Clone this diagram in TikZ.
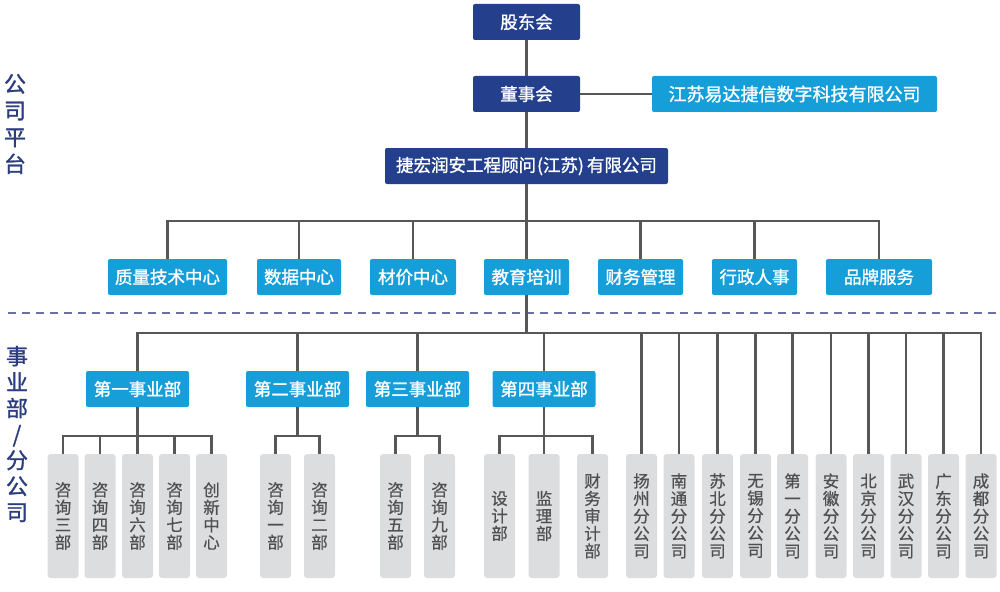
\documentclass[tikz,border=0pt]{standalone}
\usepackage{fontspec}
\setmainfont{Noto Sans CJK SC}
\newfontfamily\medfont[FakeBold=1.2]{Noto Sans CJK SC}
\newfontfamily\semifont[FakeBold=0.6]{Noto Sans CJK SC}
\definecolor{darkblue}{HTML}{243F8B}
\definecolor{lightblue}{HTML}{169ED9}
\definecolor{boxgray}{HTML}{DCDDDF}
\definecolor{textgray}{HTML}{505050}
\definecolor{linegray}{HTML}{575757}
\definecolor{labnavy}{HTML}{2B3D7D}
\definecolor{dashcol}{HTML}{6C70A8}
\begin{document}
\begin{tikzpicture}[x=1pt,y=-1pt,
  conn/.style={draw=linegray, line width=2.2pt},
  darkbox/.style={fill=darkblue, text=white, rounded corners=2pt, minimum height=36pt, inner sep=0pt, font=\medfont\fontsize{17.5}{20}\selectfont},
  lightbox/.style={fill=lightblue, text=white, rounded corners=2pt, minimum height=36pt, inner sep=0pt, font=\medfont\fontsize{17.5}{20}\selectfont},
  bubox/.style={lightbox, minimum width=103pt},
  gbox/.style={fill=boxgray, text=textgray, rounded corners=3pt, minimum width=31pt, minimum height=124pt, inner sep=0pt, align=center, font=\semifont\fontsize{16.5}{17.5}\selectfont},
  sidelab/.style={text=labnavy, align=center, inner sep=0pt},
  dashline/.style={draw=dashcol, line width=1.8pt, dash pattern=on 8pt off 6pt}
]
\useasboundingbox (0,0) rectangle (1000,591);

% side labels
\node[sidelab, font=\medfont\fontsize{22}{26.7}\selectfont] (labA) at (15,124) {公\\司\\平\\台};
\node[sidelab, font=\medfont\fontsize{22}{26}\selectfont] (labB) at (17,434) {事\\业\\部\\/\\分\\公\\司};

% separator
\draw[dashline] (8,313) -- (1000,313);

% top
\node[darkbox, minimum width=107pt] (sh) at (526.5,22) {股东会};
\node[darkbox, minimum width=107pt] (bd) at (526.5,94) {董事会};
\node[lightbox, minimum width=285pt, font=\medfont\fontsize{18}{20}\selectfont] (js) at (794.5,94) {江苏易达捷信数字科技有限公司};
\node[darkbox, minimum width=283pt] (jh) at (526.5,166) {捷宏润安工程顾问\hspace{1pt}(江苏)\hspace{3pt}有限公司};

% middle row
\node[lightbox, minimum width=119pt] (m1) at (167.5,277) {质量技术中心};
\node[lightbox, minimum width=84pt] (m2) at (299,277) {数据中心};
\node[lightbox, minimum width=86pt] (m3) at (413,277) {材价中心};
\node[lightbox, minimum width=85pt] (m4) at (526.5,277) {教育培训};
\node[lightbox, minimum width=85pt] (m5) at (640.5,277) {财务管理};
\node[lightbox, minimum width=85pt] (m6) at (754.5,277) {行政人事};
\node[lightbox, minimum width=106pt] (m7) at (879,277) {品牌服务};

% business units
\node[bubox] (bu1) at (137.5,389) {第一事业部};
\node[bubox] (bu2) at (297.5,389) {第二事业部};
\node[bubox] (bu3) at (417.5,389) {第三事业部};
\node[bubox] (bu4) at (544,389) {第四事业部};

% gray boxes
\node[gbox] (g11) at (63,516) {咨\\询\\三\\部};
\node[gbox] (g12) at (100,516) {咨\\询\\四\\部};
\node[gbox] (g13) at (137.5,516) {咨\\询\\六\\部};
\node[gbox] (g14) at (174.5,516) {咨\\询\\七\\部};
\node[gbox] (g15) at (211.5,516) {创\\新\\中\\心};
\node[gbox] (g21) at (275.5,516) {咨\\询\\一\\部};
\node[gbox] (g22) at (319.5,516) {咨\\询\\二\\部};
\node[gbox] (g31) at (395.5,516) {咨\\询\\五\\部};
\node[gbox] (g32) at (439.5,516) {咨\\询\\九\\部};
\node[gbox] (g41) at (499.5,516) {设\\计\\部};
\node[gbox] (g42) at (544,516) {监\\理\\部};
\node[gbox] (g43) at (592.5,516) {财\\务\\审\\计\\部};

% branches
\node[gbox] (b1) at (641.5,516) {扬\\州\\分\\公\\司};
\node[gbox] (b2) at (679,516) {南\\通\\分\\公\\司};
\node[gbox] (b3) at (717.5,516) {苏\\北\\分\\公\\司};
\node[gbox] (b4) at (755.5,516) {无\\锡\\分\\公\\司};
\node[gbox] (b5) at (792.5,516) {第\\一\\分\\公\\司};
\node[gbox] (b6) at (831,516) {安\\徽\\分\\公\\司};
\node[gbox] (b7) at (868.5,516) {北\\京\\分\\公\\司};
\node[gbox] (b8) at (906,516) {武\\汉\\分\\公\\司};
\node[gbox] (b9) at (943.5,516) {广\\东\\分\\公\\司};
\node[gbox] (b10) at (981,516) {成\\都\\分\\公\\司};

% connectors top
\draw[conn] (sh) -- (bd);
\draw[conn] (bd) -- (js);
\draw[conn] (bd) -- (jh);
\coordinate (midbus) at (526.5,221);
\draw[conn] (jh) -- (m4);
\draw[conn] (m1.north) |- (midbus) -| (m7.north);
\foreach \n in {m2,m3,m5,m6} \draw[conn] (\n.north) -- (\n.north |- midbus);

% lower bus
\coordinate (lowbus) at (526.5,333);
\draw[conn] (m4) -- (lowbus);
\draw[conn] (bu1.north) |- (lowbus) -| (b10.north);
\foreach \n in {bu2,bu3,bu4,b1,b2,b3,b4,b5,b6,b7,b8,b9} \draw[conn] (\n.north) -- (\n.north |- lowbus);

% sub buses
\coordinate (sb) at (0,436);
\draw[conn] (bu1) -- (bu1.south |- sb);
\draw[conn] (g11.north) |- (sb -| g13.north) -| (g15.north);
\foreach \n in {g12,g13,g14} \draw[conn] (\n.north) -- (\n.north |- sb);
\draw[conn] (bu2) -- (bu2.south |- sb);
\draw[conn] (g21.north) |- (sb -| bu2.south) -| (g22.north);
\draw[conn] (bu3) -- (bu3.south |- sb);
\draw[conn] (g31.north) |- (sb -| bu3.south) -| (g32.north);
\draw[conn] (bu4) -- (bu4.south |- sb);
\draw[conn] (g41.north) |- (sb -| g42.north) -| (g43.north);
\draw[conn] (g42.north) -- (g42.north |- sb);
\end{tikzpicture}
\end{document}
